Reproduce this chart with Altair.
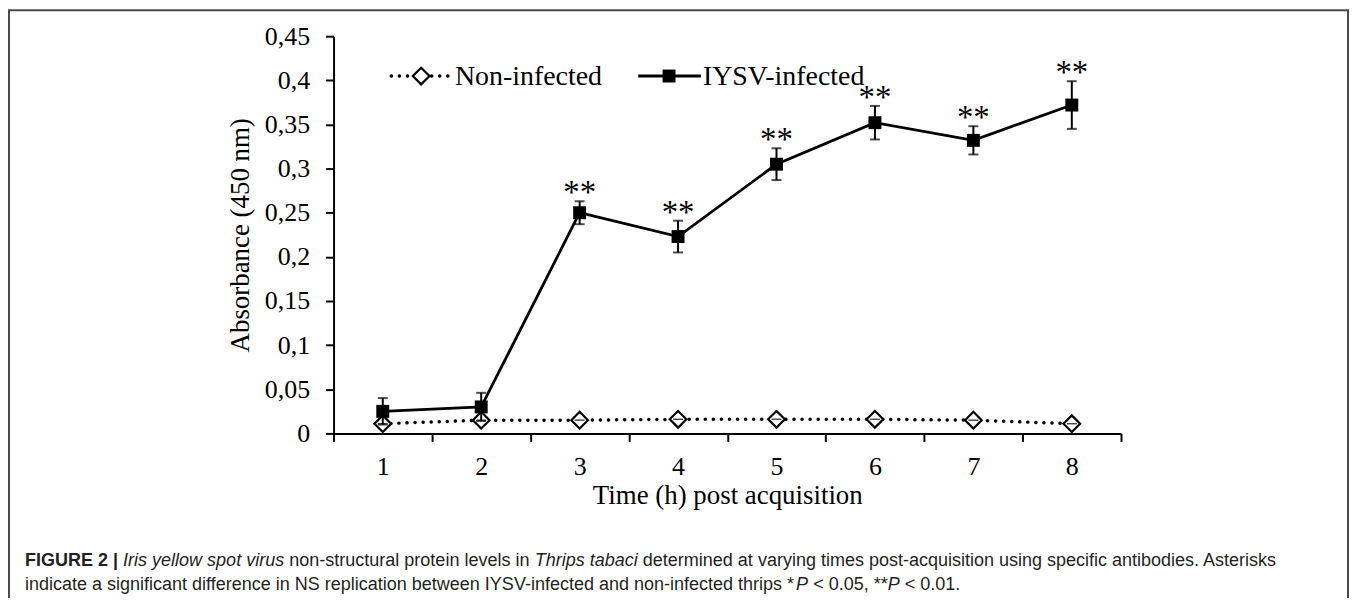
import altair as alt
import pandas as pd

# ---------------- data ----------------
time = [1, 2, 3, 4, 5, 6, 7, 8]
iysv_mean = [0.025, 0.030, 0.250, 0.223, 0.305, 0.352, 0.332, 0.372]
iysv_err = [0.015, 0.016, 0.013, 0.018, 0.018, 0.019, 0.016, 0.027]
non_mean = [0.011, 0.015, 0.015, 0.016, 0.016, 0.016, 0.015, 0.011]
non_err = [0.002, 0.002, 0.002, 0.002, 0.002, 0.002, 0.002, 0.002]
significance = ["", "", "**", "**", "**", "**", "**", "**"]
series_names = ["Non-infected", "IYSV-infected"]
y_ticks = [0, 0.05, 0.1, 0.15, 0.2, 0.25, 0.3, 0.35, 0.4, 0.45]

x_title = "Time (h) post acquisition"
y_title = "Absorbance (450 nm)"

caption_line1 = [
    ("FIGURE 2 | ", "bold", "normal"),
    ("Iris yellow spot virus", "normal", "italic"),
    (" non-structural protein levels in ", "normal", "normal"),
    ("Thrips tabaci", "normal", "italic"),
    (" determined at varying times post-acquisition using specific antibodies. Asterisks", "normal", "normal"),
]
caption_line2 = [
    ("indicate a significant difference in NS replication between IYSV-infected and non-infected thrips *", "normal", "normal"),
    ("P", "normal", "italic"),
    (" < 0.05, **", "normal", "normal"),
    ("P", "normal", "italic"),
    (" < 0.01.", "normal", "normal"),
]

# ---------------- tables ----------------
df_iysv = pd.DataFrame({
    "time": time,
    "mean": iysv_mean,
    "lo": [m - e for m, e in zip(iysv_mean, iysv_err)],
    "hi": [m + e for m, e in zip(iysv_mean, iysv_err)],
    "sig": significance,
})
df_non = pd.DataFrame({
    "time": time,
    "mean": non_mean,
    "lo": [m - e for m, e in zip(non_mean, non_err)],
    "hi": [m + e for m, e in zip(non_mean, non_err)],
})

SERIF = "Liberation Serif"
SANS = "Liberation Sans"
BLACK = "#000000"

PLOT_W, PLOT_H = 791, 399
PAD_L, PAD_T = 327, 27
TOTAL_W, TOTAL_H = 1347, 590

x_enc = alt.X(
    "time:O",
    scale=alt.Scale(type="band", paddingInner=0, paddingOuter=0, domain=time),
    axis=alt.Axis(
        title=x_title, labelAngle=0, tickBand="extent", tickSize=8, tickWidth=2,
        tickColor=BLACK, domainColor=BLACK, domainWidth=2,
        labelFont=SERIF, labelFontSize=26, labelColor=BLACK,
        labelBaseline="alphabetic", labelPadding=33,
        titleFont=SERIF, titleFontSize=27, titleFontWeight="normal", titleColor=BLACK,
        titleBaseline="alphabetic", titleX=PLOT_W / 2, titleY=70, grid=False,
    ),
)
y_axis = alt.Axis(
    title=y_title, values=y_ticks,
    labelExpr="replace(format(datum.value, '.2~f'), '.', ',')",
    tickSize=8, tickWidth=2, tickColor=BLACK, domainColor=BLACK, domainWidth=2,
    labelFont=SERIF, labelFontSize=26, labelColor=BLACK, labelPadding=16,
    titleFont=SERIF, titleFontSize=27, titleFontWeight="normal", titleColor=BLACK,
    titleAngle=270, titleBaseline="alphabetic", titleAlign="center",
    titleX=-85, titleY=PLOT_H / 2, grid=False,
)
y_scale = alt.Scale(domain=[0, 0.45], nice=False, zero=True)


def yq(field):
    return alt.Y(f"{field}:Q", scale=y_scale, axis=y_axis)


# ---------------- series ----------------
non_line = alt.Chart(df_non).mark_line(
    color=BLACK, strokeWidth=3.5, strokeDash=[0.1, 8.0], strokeCap="round"
).encode(x=x_enc, y=yq("mean"))
non_err_rule = alt.Chart(df_non).mark_rule(color=BLACK, strokeWidth=1.5).encode(
    x=x_enc, y=yq("lo"), y2="hi")
non_pts = alt.Chart(df_non).mark_point(
    shape="diamond", size=280, filled=True, fill="white", stroke=BLACK, strokeWidth=2.2, opacity=1
).encode(x=x_enc, y=yq("mean"))
non_cap = alt.Chart(df_non).mark_tick(color=BLACK, size=10, thickness=1.5).encode(x=x_enc, y=yq("mean"))

iysv_rule = alt.Chart(df_iysv).mark_rule(color=BLACK, strokeWidth=2).encode(
    x=x_enc, y=yq("lo"), y2="hi")
iysv_cap_hi = alt.Chart(df_iysv).mark_tick(color=BLACK, size=10, thickness=2).encode(x=x_enc, y=yq("hi"))
iysv_cap_lo = alt.Chart(df_iysv).mark_tick(color=BLACK, size=10, thickness=2).encode(x=x_enc, y=yq("lo"))
iysv_line = alt.Chart(df_iysv).mark_line(color=BLACK, strokeWidth=2.8).encode(x=x_enc, y=yq("mean"))
iysv_pts = alt.Chart(df_iysv).mark_point(
    shape="square", size=169, filled=True, color=BLACK, opacity=1
).encode(x=x_enc, y=yq("mean"))
stars = alt.Chart(df_iysv).mark_text(
    font=SERIF, fontSize=33, color=BLACK, baseline="alphabetic", dy=2
).encode(x=x_enc, y=yq("hi"), text="sig:N")

# ---------------- legend (drawn by hand, as in the figure) ----------------
one = pd.DataFrame({"k": [0]})
LEG_Y = 40
leg = [
    alt.Chart(one).mark_rule(color=BLACK, strokeWidth=3.5, strokeDash=[0.1, 8.0], strokeCap="round").encode(
        x=alt.value(58), x2=alt.value(117), y=alt.value(LEG_Y)),
    alt.Chart(one).mark_point(shape="diamond", size=280, filled=True, fill="white", stroke=BLACK,
                              strokeWidth=2.2, opacity=1).encode(x=alt.value(88), y=alt.value(LEG_Y)),
    alt.Chart(one).mark_text(font=SERIF, fontSize=28, color=BLACK, align="left", baseline="alphabetic",
                             text=series_names[0]).encode(x=alt.value(122), y=alt.value(LEG_Y + 9)),
    alt.Chart(one).mark_rule(color=BLACK, strokeWidth=2.8).encode(
        x=alt.value(306), x2=alt.value(369), y=alt.value(LEG_Y)),
    alt.Chart(one).mark_point(shape="square", size=169, filled=True, color=BLACK, opacity=1).encode(
        x=alt.value(337), y=alt.value(LEG_Y)),
    alt.Chart(one).mark_text(font=SERIF, fontSize=28, color=BLACK, align="left", baseline="alphabetic",
                             text=series_names[1]).encode(x=alt.value(371), y=alt.value(LEG_Y + 9)),
]

# ---------------- caption ----------------
ARIAL = {' ': 278, '*': 389, ',': 278, '-': 333, '.': 278, '<': 584, '|': 260,
         'A': 667, 'B': 667, 'C': 722, 'D': 722, 'E': 667, 'F': 611, 'G': 778, 'H': 722, 'I': 278,
         'J': 500, 'K': 667, 'L': 556, 'M': 833, 'N': 722, 'O': 778, 'P': 667, 'Q': 778, 'R': 722,
         'S': 667, 'T': 611, 'U': 722, 'V': 667, 'W': 944, 'X': 667, 'Y': 667, 'Z': 611,
         'a': 556, 'b': 556, 'c': 500, 'd': 556, 'e': 556, 'f': 278, 'g': 556, 'h': 556, 'i': 222,
         'j': 222, 'k': 500, 'l': 222, 'm': 833, 'n': 556, 'o': 556, 'p': 556, 'q': 556, 'r': 333,
         's': 500, 't': 278, 'u': 556, 'v': 500, 'w': 722, 'x': 500, 'y': 500, 'z': 500}
ARIAL_BOLD = {'|': 280, 'F': 611, 'I': 278, 'G': 778, 'U': 722, 'R': 722, 'E': 667, ' ': 278}


def em_width(s, weight):
    tot = 0
    for ch in s:
        if ch.isdigit():
            tot += 556
        elif weight == "bold" and ch in ARIAL_BOLD:
            tot += ARIAL_BOLD[ch]
        else:
            tot += ARIAL.get(ch, 556)
    return tot / 1000.0


CAP_X0 = -310
line1_em = sum(em_width(t, w) for t, w, _ in caption_line1)
CAP_FS = round((1283 - 25) / line1_em, 1)

caption_layers = []
for segs, base_y in ((caption_line1, 532), (caption_line2, 556)):
    x = CAP_X0
    for text, weight, style in segs:
        lead = len(text) - len(text.lstrip(" "))
        trail = len(text) - len(text.rstrip(" "))
        core = text.strip(" ")
        x += em_width(" " * lead, weight) * CAP_FS
        caption_layers.append(
            alt.Chart(one).mark_text(
                font=SANS, fontSize=CAP_FS, fontWeight=weight, fontStyle=style, color="#231f20",
                align="left", baseline="alphabetic", text=core
            ).encode(x=alt.value(x), y=alt.value(base_y))
        )
        x += em_width(core, weight) * CAP_FS + em_width(" " * trail, weight) * CAP_FS

border = alt.Chart(one).mark_rect(fillOpacity=0, stroke="#4a4a4a", strokeWidth=2).encode(
    x=alt.value(-326), x2=alt.value(1019), y=alt.value(-26), y2=alt.value(620))

chart = alt.layer(
    border,
    non_line, non_err_rule, non_pts, non_cap,
    iysv_rule, iysv_cap_hi, iysv_cap_lo, iysv_line, iysv_pts, stars,
    *leg, *caption_layers,
).properties(
    width=PLOT_W, height=PLOT_H,
    autosize=alt.AutoSizeParams(type="none"),
    padding={"left": PAD_L, "top": PAD_T, "right": TOTAL_W - PAD_L - PLOT_W,
             "bottom": TOTAL_H - PAD_T - PLOT_H},
    background="white",
).configure_view(strokeWidth=0)

chart.save("out.html", embed_options={"renderer": "svg", "actions": False})
